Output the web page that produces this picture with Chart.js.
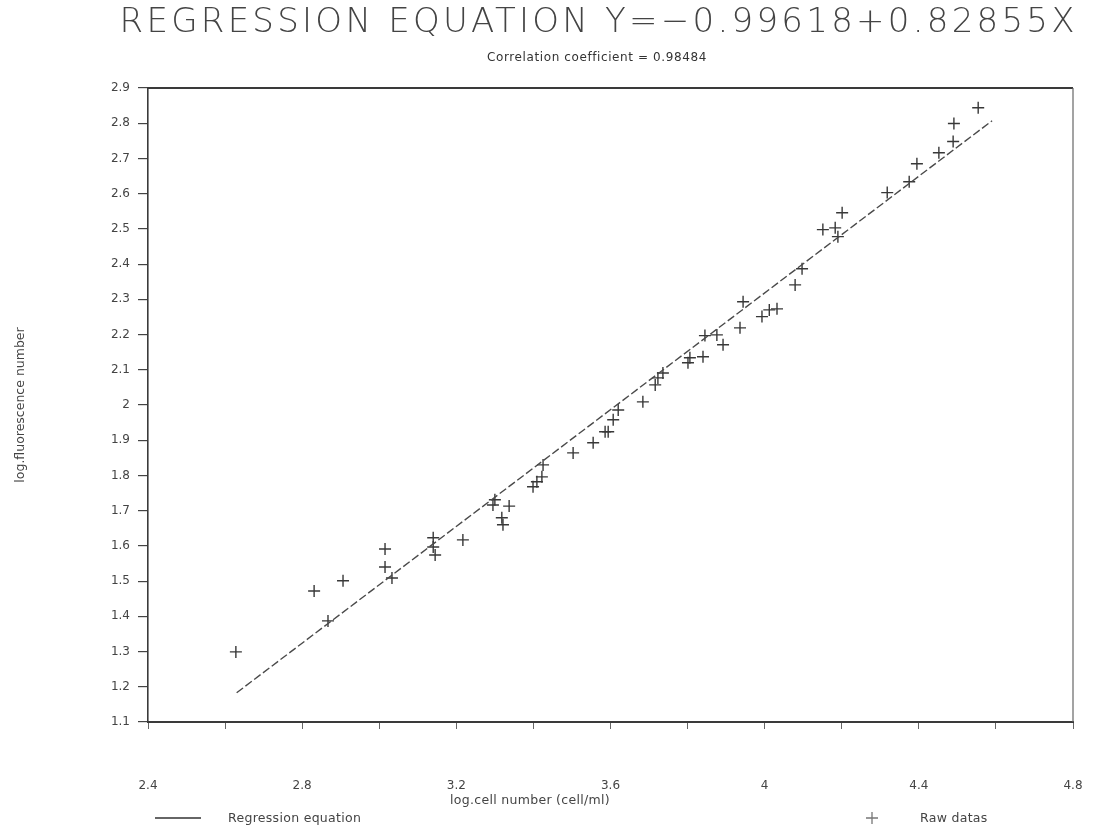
<!DOCTYPE html>
<html>
<head>
<meta charset="utf-8">
<script src="https://cdn.jsdelivr.net/npm/chart.js@4/dist/chart.umd.min.js"></script>
<style>
  html, body { margin: 0; padding: 0; background: #fff; }
  #wrap { width: 1096px; height: 836px; }
</style>
</head>
<body>
<div id="wrap"><canvas id="c" width="1096" height="836"></canvas></div>
<script>
const titleText = "REGRESSION EQUATION Y=\u22120.99618+0.82855X";
const subtitleText = "Correlation coefficient = 0.98484";
const xTitle = "log.cell number (cell/ml)";
const yTitle = "log.fluorescence number";
const legendLineLabel = "Regression equation";
const legendPointLabel = "Raw datas";

const xTicks = [2.4, 2.8, 3.2, 3.6, 4, 4.4, 4.8];
const yTicks = [1.1, 1.2, 1.3, 1.4, 1.5, 1.6, 1.7, 1.8, 1.9, 2, 2.1, 2.2, 2.3, 2.4, 2.5, 2.6, 2.7, 2.8, 2.9];

const rawX = [2.628, 2.831, 2.867, 2.906, 3.015, 3.015, 3.033, 3.140, 3.140, 3.145,
  3.217, 3.300, 3.295, 3.337, 3.318, 3.321, 3.399, 3.409, 3.422, 3.425,
  3.503, 3.555, 3.586, 3.594, 3.607, 3.620, 3.684, 3.716, 3.723, 3.736,
  3.801, 3.806, 3.840, 3.845, 3.876, 3.892, 3.936, 3.944, 3.993, 4.012, 4.032,
  4.079, 4.097, 4.151, 4.183, 4.190, 4.201, 4.318, 4.375, 4.395,
  4.452, 4.489, 4.491, 4.554];
const rawY = [1.299, 1.472, 1.387, 1.501, 1.591, 1.540, 1.509, 1.623, 1.597, 1.574,
  1.617, 1.731, 1.716, 1.713, 1.680, 1.660, 1.768, 1.782, 1.796, 1.830,
  1.864, 1.893, 1.924, 1.924, 1.958, 1.986, 2.009, 2.057, 2.077, 2.091,
  2.120, 2.134, 2.137, 2.197, 2.199, 2.171, 2.219, 2.293, 2.251, 2.270, 2.273,
  2.341, 2.387, 2.498, 2.503, 2.478, 2.546, 2.603, 2.634, 2.685,
  2.716, 2.748, 2.799, 2.844];

const lineX = [2.63, 4.59];
const lineY = [1.183, 2.807];

const rawPoints = rawX.map((x, i) => ({ x: x, y: rawY[i] }));
const linePoints = lineX.map((x, i) => ({ x: x, y: lineY[i] }));

const INK = '#3a3a3a';
const FONT = '"DejaVu Sans", "Liberation Sans", sans-serif';

const decor = {
  id: 'decor',
  afterDraw(chart) {
    const ctx = chart.ctx;
    const a = chart.chartArea;
    ctx.save();
    // frame: top and right
    ctx.strokeStyle = INK;
    ctx.lineWidth = 2;
    ctx.beginPath();
    ctx.moveTo(a.left, a.top); ctx.lineTo(a.right, a.top);
    ctx.stroke();
    ctx.lineWidth = 1.2;
    ctx.strokeStyle = '#666';
    ctx.beginPath();
    ctx.moveTo(a.right, a.top); ctx.lineTo(a.right, a.bottom);
    ctx.stroke();

    // title
    ctx.fillStyle = '#444';
    ctx.textBaseline = 'middle';
    ctx.textAlign = 'left';
    ctx.font = '200 34px ' + FONT;
    ctx.letterSpacing = '0px';
    const targetW = 955;
    const w0 = ctx.measureText(titleText).width;
    const ls = (targetW - w0) / (titleText.length - 1);
    ctx.letterSpacing = ls + 'px';
    ctx.fillText(titleText, 597 - targetW / 2, 23);

    // subtitle
    ctx.font = '12px ' + FONT;
    ctx.letterSpacing = '0.6px';
    ctx.fillStyle = '#333';
    ctx.textAlign = 'center';
    ctx.fillText(subtitleText, 597, 58);

    // x title
    ctx.font = '12.5px ' + FONT;
    ctx.letterSpacing = '0.3px';
    ctx.fillStyle = '#444';
    ctx.fillText(xTitle, 530, 801);

    // legend
    ctx.textAlign = 'left';
    ctx.strokeStyle = '#333';
    ctx.lineWidth = 1.3;
    ctx.beginPath();
    ctx.moveTo(155, 818); ctx.lineTo(201, 818);
    ctx.stroke();
    ctx.fillText(legendLineLabel, 228, 819);
    ctx.lineWidth = 1.3;
    ctx.strokeStyle = '#777';
    ctx.beginPath();
    ctx.moveTo(866, 818); ctx.lineTo(878, 818);
    ctx.moveTo(872, 812); ctx.lineTo(872, 824);
    ctx.stroke();
    ctx.fillText(legendPointLabel, 920, 819);
    ctx.restore();
  }
};

new Chart(document.getElementById('c'), {
  type: 'scatter',
  data: {
    datasets: [
      {
        label: legendLineLabel,
        type: 'line',
        data: linePoints,
        borderColor: '#4a4a4a',
        borderWidth: 1.4,
        borderDash: [8, 3],
        pointRadius: 0,
        fill: false,
        tension: 0
      },
      {
        label: legendPointLabel,
        data: rawPoints,
        pointStyle: 'cross',
        pointRadius: 6,
        borderColor: '#383838',
        backgroundColor: '#383838',
        pointBorderWidth: 1.4
      }
    ]
  },
  options: {
    responsive: false,
    animation: false,
    layout: { padding: { top: 88, right: 23, left: 0, bottom: 0 } },
    plugins: {
      legend: { display: false },
      title: { display: false },
      tooltip: { enabled: false }
    },
    scales: {
      x: {
        type: 'linear',
        min: 2.4, max: 4.8,
        afterFit(scale) {
          scale.height = 836 - 722;
          scale.paddingLeft = 12;
          scale.paddingRight = 12;
        },
        afterBuildTicks(scale) {
          const t = [];
          for (let i = 0; i <= 12; i++) t.push({ value: Math.round((2.4 + i * 0.2) * 10) / 10 });
          scale.ticks = t;
        },
        ticks: {
          autoSkip: false,
          maxRotation: 0,
          padding: 50,
          color: '#444',
          font: { family: FONT, size: 12 },
          callback(v) {
            const r = Math.round(v * 10) / 10;
            return xTicks.some(t => Math.abs(t - r) < 1e-6) ? String(r) : '';
          }
        },
        grid: { drawOnChartArea: false, drawTicks: true, tickLength: 7, color: '#666', lineWidth: 1 },
        border: { display: true, color: INK, width: 2 }
      },
      y: {
        type: 'linear',
        min: 1.1, max: 2.9,
        afterFit(scale) { scale.width = 148; },
        afterBuildTicks(scale) {
          scale.ticks = yTicks.map(v => ({ value: v }));
        },
        ticks: {
          autoSkip: false,
          padding: 8,
          color: '#444',
          font: { family: FONT, size: 12 },
          callback(v) { return String(Math.round(v * 10) / 10); }
        },
        grid: { drawOnChartArea: false, drawTicks: true, tickLength: 10, color: '#444', lineWidth: 1.2 },
        border: { display: true, color: INK, width: 1.6 },
        title: {
          display: true,
          text: yTitle,
          color: '#444',
          font: { family: FONT, size: 12.5 },
          padding: { top: 13, bottom: 0 }
        }
      }
    }
  },
  plugins: [decor]
});
</script>
</body>
</html>
